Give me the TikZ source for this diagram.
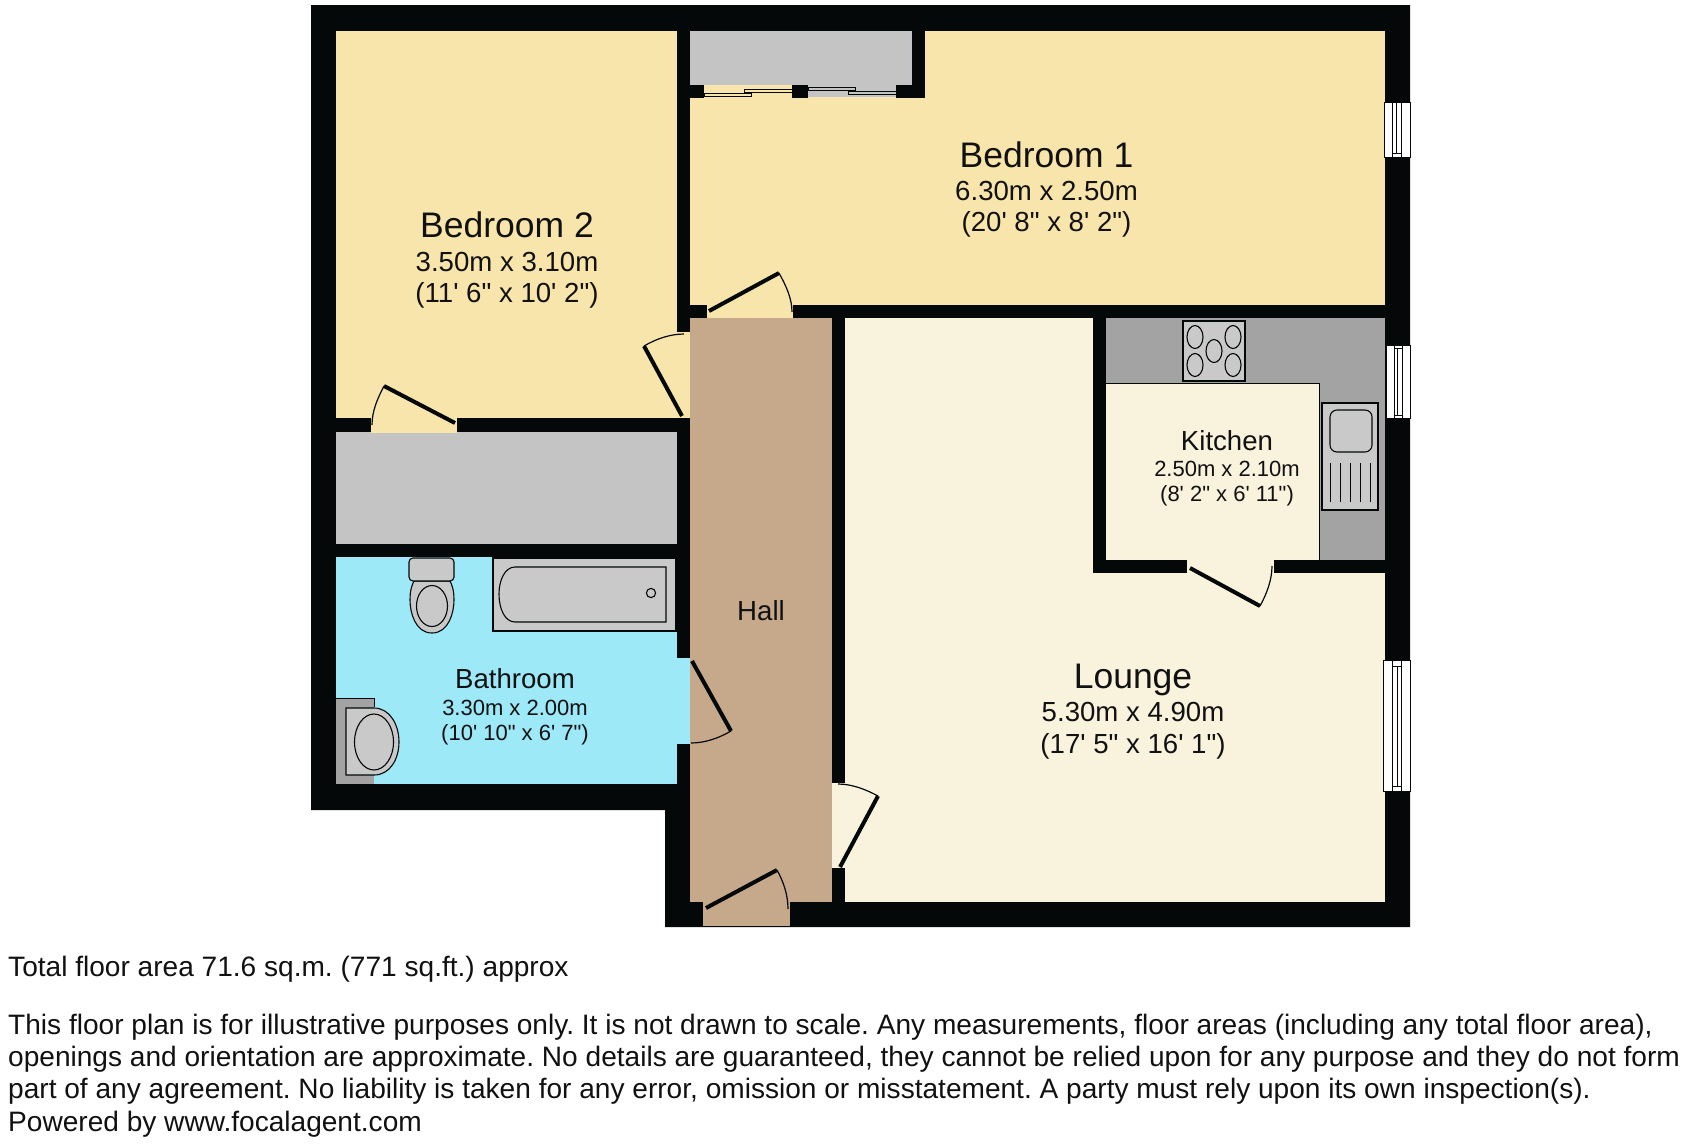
\documentclass[tikz,border=0pt]{standalone}
\usepackage{fontspec}
\newfontfamily\planfont{Liberation Sans}
\definecolor{bedc}{HTML}{F8E5AC}
\definecolor{loungec}{HTML}{F9F3DD}
\definecolor{hallc}{HTML}{C5A98A}
\definecolor{bathc}{HTML}{9DE9F7}
\definecolor{storec}{HTML}{C4C4C4}
\definecolor{counterc}{HTML}{A3A3A3}
\definecolor{fixc}{HTML}{C9C9C9}
\definecolor{wallc}{HTML}{040808}
\definecolor{textc}{HTML}{111111}
\tikzset{
  wall/.style={fill=wallc,draw=none},
  leaf/.style={draw=wallc,line width=4pt},
  swing/.style={draw=wallc,line width=1.2pt},
  fixture/.style={draw=wallc,fill=fixc,line width=1.1pt},
  winpane/.style={draw=wallc,fill=white,line width=0.8pt},
  winline/.style={draw=wallc,line width=.8pt},
  big/.style={font=\planfont\frenchspacing\fontsize{35.5}{36}\selectfont,text=textc,anchor=base,inner sep=0pt},
  mid/.style={font=\planfont\frenchspacing\fontsize{27.6}{28}\selectfont,text=textc,anchor=base,inner sep=0pt},
  small/.style={font=\planfont\frenchspacing\fontsize{22}{22}\selectfont,text=textc,anchor=base,inner sep=0pt},
  foot/.style={font=\planfont\frenchspacing\fontsize{28.08}{29}\selectfont,text=textc,anchor=base west,inner sep=0pt}
}
\begin{document}
\begin{tikzpicture}[x=1pt,y=-1pt]
\useasboundingbox (0,0) rectangle (1688,1144);
% outer wall mass
\fill[wall] (311,5) -- (1410,5) -- (1410,927) -- (665,927) -- (665,810) -- (311,810) -- cycle;
% rooms
\fill[bedc] (336,31) rectangle (677,418);
\fill[bedc] (690,31) rectangle (1385,305);
\fill[storec] (336,432) rectangle (677,544);
\fill[bathc] (336,557) rectangle (677,784);
\fill[hallc] (690,318) rectangle (832,902);
\fill[loungec] (845,318) rectangle (1385,902);
% walls between lounge & kitchen, closet
\fill[wall] (1093,318) rectangle (1106,573);
\fill[wall] (1093,559.5) rectangle (1385,573);
\fill[wall] (912,31) rectangle (925,98);
% closet
\fill[storec] (690,31) rectangle (912,85);
\fill[storec] (808,85) rectangle (896,97);
\fill[wall] (690,85) rectangle (704,98);
\fill[wall] (792,85) rectangle (808,98);
\fill[wall] (896,85) rectangle (925,98);
\draw[draw=wallc,fill=bedc,line width=.9pt] (704,93.5) rectangle (751,96.5);
\draw[draw=wallc,fill=bedc,line width=.9pt] (744,89) rectangle (792,92);
\draw[draw=wallc,fill=storec,line width=.9pt] (808,87) rectangle (855,90);
\draw[draw=wallc,fill=storec,line width=.9pt] (848,91.5) rectangle (896,94.5);
% kitchen floor & counter
\fill[counterc] (1106,318) rectangle (1385,559.5);
\fill[loungec] (1106,383) rectangle (1319,559.5);
\draw[wallc,line width=.8pt] (1106,383) -- (1319,383) -- (1319,559.5);
% hob
\draw[fixture] (1183,321) rectangle (1245,381);
\foreach \cx/\cy in {1195/337,1233/337,1195/365,1233/365,1214/351}
  \draw[draw=wallc,fill=fixc,line width=1.1pt] (\cx,\cy) ellipse [x radius=8,y radius=11.5];
% sink
\draw[fixture] (1322,403) rectangle (1378,510);
\draw[fixture,rounded corners=7pt] (1330,410) rectangle (1372,452);
\foreach \lx in {1330,1340,1350,1360,1370}
  \draw[wallc,line width=1pt] (\lx,463) -- (\lx,502);
% door openings
\fill[bedc] (371,417) rectangle (457,433);
\fill[bedc] (676,332) rectangle (690,418);
\fill[bedc] (707,304) rectangle (793,318);
\fill[bathc] (676,658) rectangle (690,744);
\fill[loungec] (831.5,783) rectangle (846,868);
\fill[loungec] (1187,558) rectangle (1274,574);
\fill[hallc] (703,901) rectangle (790,926);
% door leaves and swings
\draw[leaf] (455,423) -- (384,386);
\draw[swing] (384,386) .. controls (377.5,398.5) and (372,411) .. (372,425);
\draw[leaf] (682,416) -- (644,346);
\draw[swing] (644,346) .. controls (656,339) and (670,334) .. (684,334);
\draw[leaf] (709,311) -- (779,273);
\draw[swing] (779,273) .. controls (785.6,285) and (792,298) .. (792,312);
\draw[leaf] (692,661) -- (731,731);
\draw[swing] (731,731) .. controls (719,738) and (705,743) .. (691,743);
\draw[leaf] (840,867) -- (878,796);
\draw[swing] (878,796) .. controls (866,789.5) and (852,784) .. (838,784);
\draw[leaf] (706,908) -- (777,870);
\draw[swing] (777,870) .. controls (783.6,882) and (788,895) .. (788,909);
\draw[leaf] (1190,568) -- (1260,606);
\draw[swing] (1260,606) .. controls (1266.6,594) and (1272,580) .. (1272,566);
% windows
\draw[winpane] (1384,102) rectangle (1410,157);
\draw[winline] (1392.5,102) -- (1392.5,157) (1401,102) -- (1401,157) (1396.5,103) -- (1396.5,153) (1392.5,153) -- (1401,153);
\draw[winpane] (1386,345) rectangle (1410,418);
\draw[winline] (1394,345) -- (1394,418) (1402,345) -- (1402,418) (1397.5,348) -- (1397.5,415) (1394,348) -- (1402,348) (1394,415) -- (1402,415);
\draw[winpane] (1383,660) rectangle (1410,791);
\draw[winline] (1392,660) -- (1392,791) (1401,660) -- (1401,791) (1397,666) -- (1397,786) (1392,666) -- (1401,666) (1392,786) -- (1401,786);
% bath
\draw[fixture] (493,558) rectangle (676,631);
\draw[fixture] (666,567) -- (515,567) .. controls (505,567) and (499,580) .. (499,594) .. controls (499,609) and (505,622) .. (515,622) -- (666,622) -- cycle;
\draw[draw=wallc,fill=fixc,line width=1.1pt] (651,593) circle (4.6);
% toilet
\draw[fixture] (432,633) .. controls (415,633) and (410,612) .. (410,600) .. controls (410,590) and (412,585) .. (414,581) -- (450,581) .. controls (452,585) and (454,590) .. (454,600) .. controls (454,612) and (449,633) .. (432,633) -- cycle;
\draw[fixture,rounded corners=4pt] (409,558) rectangle (454,581);
\draw[fixture] (432,606) ellipse [x radius=15.5,y radius=20.5];
% basin
\fill[counterc] (336,698) rectangle (374,784);
\draw[wallc,line width=.8pt] (336,698) -- (374,698) -- (374,707);
\draw[fixture] (346,708) -- (374,708) .. controls (390,708) and (399,725) .. (399,742) .. controls (399,759) and (390,775) .. (374,775) -- (346,775) -- cycle;
\draw[fixture] (374,742) ellipse [x radius=19.5,y radius=28];
% labels
\node[big] (bed1) at (1046.5,167) {Bedroom 1};
\node[mid] (bed1m) at (1046.5,200) {6.30m x 2.50m};
\node[mid] (bed1f) at (1046.5,231) {(20' 8" x 8' 2")};
\node[big] (bed2) at (507,237) {Bedroom 2};
\node[mid] (bed2m) at (507,271) {3.50m x 3.10m};
\node[mid] (bed2f) at (507,302) {(11' 6" x 10' 2")};
\node[mid] (kit) at (1227,450) {Kitchen};
\node[small] (kitm) at (1227,476) {2.50m x 2.10m};
\node[small] (kitf) at (1227,501) {(8' 2" x 6' 11")};
\node[mid] (bath) at (515,688) {Bathroom};
\node[small] (bathm) at (515,715) {3.30m x 2.00m};
\node[small] (bathf) at (515,740) {(10' 10" x 6' 7")};
\node[mid] (hall) at (761,620) {Hall};
\node[big] (lounge) at (1133,688) {Lounge};
\node[mid] (loungem) at (1133,721) {5.30m x 4.90m};
\node[mid] (loungef) at (1133,753) {(17' 5" x 16' 1")};
% footer
\node[foot] (total) at (8,976.5) {Total floor area 71.6 sq.m. (771 sq.ft.) approx};
\node[foot] (l1) at (8,1034.5) {This floor plan is for illustrative purposes only. It is not drawn to scale. Any measurements, floor areas (including any total floor area),};
\node[foot] (l2) at (8,1066.5) {openings and orientation are approximate. No details are guaranteed, they cannot be relied upon for any purpose and they do not form};
\node[foot] (l3) at (8,1098.5) {part of any agreement. No liability is taken for any error, omission or misstatement. A party must rely upon its own inspection(s).};
\node[foot] (l4) at (8,1131.5) {Powered by www.focalagent.com};
\end{tikzpicture}
\end{document}
